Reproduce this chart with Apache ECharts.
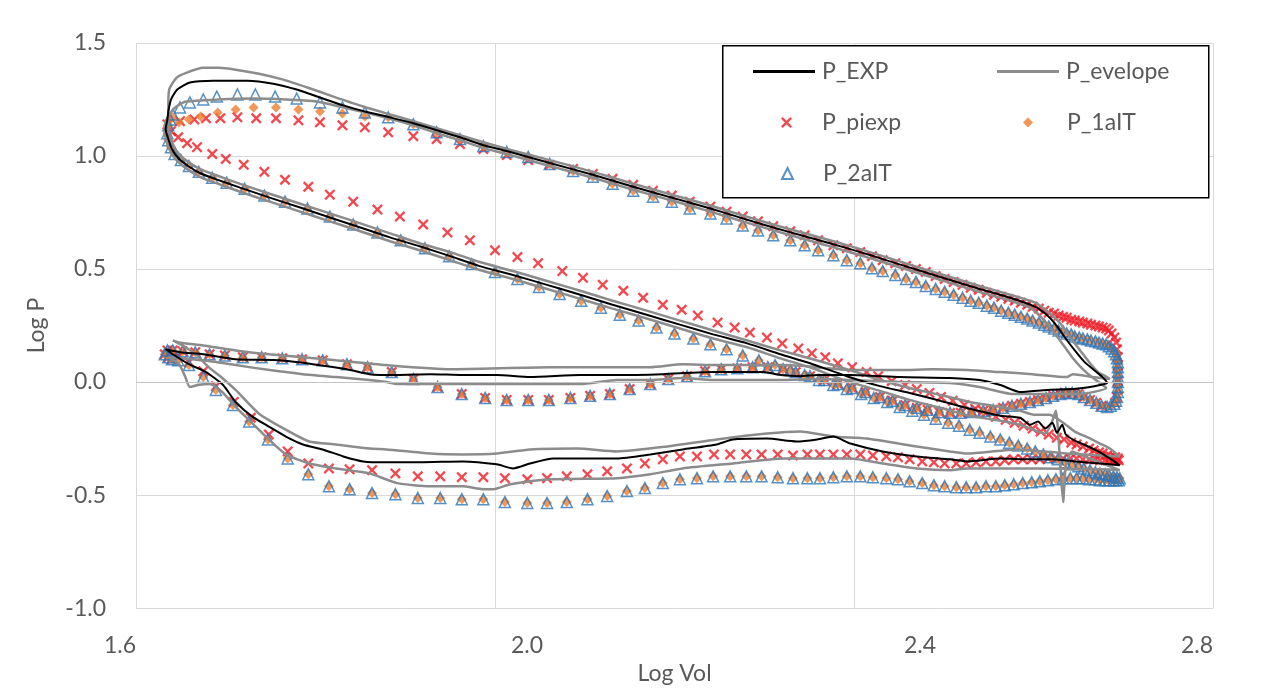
<!DOCTYPE html>
<html><head><meta charset="utf-8">
<script src="https://cdn.jsdelivr.net/npm/echarts@6/dist/echarts.min.js"></script>
<style>html,body{margin:0;padding:0;background:#fff}#c{width:1262px;height:690px}</style>
</head><body><div id="c"></div>
<script>
// ---------- axis ticks ----------
const xTicks = [1.6, 2.0, 2.4, 2.8];
const yTicks = [-1.0, -0.5, 0.0, 0.5, 1.0, 1.5];

// ---------- P_EXP (measured loop: intake, compression, expansion, exhaust) ----------
const pExp = [
[1.633,0.145],[1.641,0.123],[1.659,0.079],[1.678,0.044],[1.697,-0.013],[1.711,-0.088],[1.730,-0.154],[1.748,-0.197],[1.767,-0.241],[1.786,-0.276],[1.808,-0.298],[1.831,-0.329],[1.853,-0.351],[1.879,-0.355],[1.916,-0.355],[1.964,-0.351],[2.002,-0.364],[2.020,-0.382],[2.039,-0.360],[2.065,-0.338],[2.098,-0.338],[2.136,-0.338],[2.173,-0.320],[2.209,-0.298],[2.247,-0.276],[2.265,-0.254],[2.303,-0.250],[2.336,-0.263],[2.359,-0.254],[2.377,-0.241],[2.396,-0.272],[2.432,-0.307],[2.470,-0.329],[2.507,-0.342],[2.526,-0.351],[2.563,-0.338],[2.596,-0.342],[2.618,-0.342],[2.646,-0.351],[2.674,-0.360],[2.696,-0.368],
[2.685,-0.338],[2.674,-0.311],[2.661,-0.285],[2.646,-0.259],[2.636,-0.232],[2.632,-0.189],[2.626,-0.224],[2.621,-0.180],[2.613,-0.206],[2.605,-0.175],[2.596,-0.189],[2.585,-0.158],[2.563,-0.149],[2.529,-0.118],[2.496,-0.083],[2.462,-0.048],[2.429,-0.018],[2.392,0.026],[2.354,0.079],[2.318,0.123],[2.281,0.171],[2.243,0.211],[2.206,0.254],[2.169,0.298],[2.131,0.342],[2.095,0.386],[2.058,0.430],[2.020,0.474],[1.983,0.513],[1.950,0.557],[1.916,0.601],[1.883,0.640],[1.850,0.684],[1.816,0.728],[1.783,0.772],[1.749,0.816],[1.716,0.860],[1.688,0.899],[1.671,0.925],[1.658,0.956],[1.647,0.991],[1.640,1.031],[1.636,1.075],[1.633,1.118],
[1.635,1.162],[1.636,1.197],[1.639,1.250],[1.646,1.294],[1.660,1.325],[1.686,1.333],[1.724,1.333],[1.753,1.320],[1.779,1.294],[1.805,1.259],[1.831,1.224],[1.855,1.197],[1.883,1.171],[1.909,1.145],[1.935,1.114],[1.961,1.083],[1.987,1.048],[2.013,1.022],[2.061,0.969],[2.109,0.917],[2.154,0.864],[2.197,0.816],[2.240,0.768],[2.276,0.724],[2.310,0.684],[2.345,0.645],[2.377,0.610],[2.407,0.575],[2.432,0.544],[2.457,0.513],[2.496,0.465],[2.540,0.412],[2.574,0.373],[2.602,0.333],[2.613,0.303],[2.624,0.259],[2.635,0.197],[2.646,0.140],[2.657,0.088],[2.669,0.048],[2.677,0.022],[2.682,-0.004],
[2.674,-0.013],[2.663,-0.022],[2.644,-0.031],[2.615,-0.035],[2.585,-0.044],[2.563,-0.013],[2.540,0.009],[2.507,0.018],[2.451,0.022],[2.396,0.031],[2.359,0.031],[2.340,0.026],[2.318,0.031],[2.299,0.044],[2.243,0.044],[2.187,0.035],[2.136,0.031],[2.095,0.031],[2.039,0.022],[2.002,0.031],[1.964,0.031],[1.928,0.035],[1.891,0.031],[1.860,0.035],[1.835,0.057],[1.797,0.079],[1.760,0.096],[1.711,0.101],[1.675,0.123],[1.649,0.132],[1.633,0.145]
];

// ---------- P_evelope (upper and lower bounds) ----------
const envUpper = [
[1.641,0.184],[1.655,0.154],[1.668,0.118],[1.681,0.066],[1.696,0.018],[1.711,-0.035],[1.737,-0.140],[1.767,-0.211],[1.793,-0.263],[1.823,-0.276],[1.860,-0.294],[1.879,-0.298],[1.928,-0.316],[1.964,-0.320],[2.002,-0.316],[2.039,-0.298],[2.091,-0.294],[2.136,-0.307],[2.192,-0.285],[2.247,-0.254],[2.303,-0.228],[2.340,-0.219],[2.377,-0.241],[2.414,-0.250],[2.470,-0.285],[2.507,-0.307],[2.526,-0.316],[2.582,-0.298],[2.637,-0.316],[2.696,-0.329],
[2.685,-0.294],[2.674,-0.272],[2.661,-0.246],[2.646,-0.219],[2.633,-0.180],[2.618,-0.145],[2.602,-0.145],[2.585,-0.127],[2.563,-0.110],[2.529,-0.088],[2.496,-0.057],[2.462,-0.026],[2.429,0.009],[2.392,0.057],[2.354,0.101],[2.318,0.140],[2.281,0.184],[2.243,0.228],[2.206,0.272],[2.169,0.316],[2.131,0.360],[2.095,0.404],[2.058,0.447],[2.020,0.491],[1.983,0.531],[1.950,0.575],[1.916,0.614],[1.883,0.658],[1.850,0.702],[1.816,0.746],[1.783,0.789],[1.749,0.833],[1.716,0.877],[1.688,0.917],[1.671,0.943],[1.658,0.974],[1.649,1.004],[1.642,1.044],[1.638,1.088],[1.636,1.140],
[1.636,1.219],[1.637,1.294],[1.645,1.346],[1.656,1.368],[1.675,1.390],[1.692,1.390],[1.711,1.382],[1.737,1.364],[1.764,1.338],[1.791,1.303],[1.820,1.263],[1.853,1.219],[1.883,1.184],[1.909,1.154],[1.935,1.123],[1.961,1.092],[1.987,1.061],[2.013,1.031],[2.061,0.982],[2.109,0.930],[2.154,0.877],[2.197,0.829],[2.240,0.781],[2.276,0.737],[2.310,0.697],[2.345,0.658],[2.377,0.623],[2.407,0.588],[2.432,0.557],[2.457,0.526],[2.496,0.478],[2.540,0.425],[2.574,0.386],[2.602,0.351],[2.616,0.311],[2.630,0.259],[2.641,0.197],[2.652,0.140],[2.663,0.083],[2.672,0.044],[2.680,0.026],[2.685,0.013],
[2.666,0.022],[2.644,0.035],[2.637,0.022],[2.599,0.035],[2.563,0.044],[2.526,0.053],[2.488,0.057],[2.451,0.053],[2.396,0.053],[2.359,0.066],[2.321,0.075],[2.247,0.075],[2.209,0.079],[2.173,0.066],[2.061,0.066],[1.950,0.057],[1.879,0.075],[1.823,0.096],[1.786,0.110],[1.748,0.123],[1.711,0.140],[1.675,0.162],[1.648,0.175],[1.641,0.184]
];
const envLower = [
[1.636,0.110],[1.648,0.079],[1.655,0.022],[1.660,-0.022],[1.669,-0.013],[1.682,-0.009],[1.696,-0.044],[1.711,-0.110],[1.730,-0.184],[1.748,-0.254],[1.767,-0.320],[1.793,-0.360],[1.823,-0.382],[1.860,-0.404],[1.891,-0.447],[1.928,-0.461],[1.964,-0.461],[1.987,-0.474],[1.998,-0.474],[2.017,-0.452],[2.061,-0.430],[2.136,-0.425],[2.173,-0.408],[2.209,-0.382],[2.265,-0.360],[2.321,-0.338],[2.396,-0.338],[2.432,-0.360],[2.470,-0.382],[2.507,-0.390],[2.526,-0.382],[2.599,-0.382],[2.674,-0.386],[2.696,-0.390],
[2.674,-0.355],[2.657,-0.329],[2.643,-0.307],[2.636,-0.373],[2.633,-0.531],[2.630,-0.373],[2.627,-0.197],[2.625,-0.127],[2.621,-0.171],[2.613,-0.228],[2.602,-0.215],[2.585,-0.189],[2.563,-0.171],[2.529,-0.149],[2.496,-0.114],[2.462,-0.079],[2.429,-0.039],[2.392,0.004],[2.354,0.061],[2.318,0.105],[2.281,0.154],[2.243,0.193],[2.206,0.237],[2.169,0.281],[2.131,0.325],[2.095,0.368],[2.058,0.412],[2.020,0.456],[1.983,0.496],[1.950,0.539],[1.916,0.583],[1.883,0.623],[1.850,0.667],[1.816,0.711],[1.783,0.754],[1.749,0.798],[1.716,0.842],[1.688,0.882],[1.671,0.908],[1.658,0.939],[1.647,0.974],[1.640,1.009],[1.635,1.053],[1.632,1.110],
[1.633,1.154],[1.639,1.193],[1.645,1.219],[1.656,1.241],[1.692,1.250],[1.730,1.254],[1.767,1.250],[1.801,1.241],[1.827,1.219],[1.855,1.193],[1.881,1.167],[1.909,1.136],[1.935,1.101],[1.961,1.070],[1.987,1.035],[2.013,1.009],[2.061,0.956],[2.109,0.904],[2.154,0.851],[2.197,0.803],[2.240,0.754],[2.276,0.711],[2.310,0.671],[2.345,0.632],[2.377,0.596],[2.407,0.561],[2.432,0.531],[2.457,0.500],[2.496,0.452],[2.540,0.399],[2.574,0.360],[2.596,0.329],[2.609,0.285],[2.621,0.228],[2.632,0.171],[2.643,0.110],[2.654,0.061],[2.665,0.022],[2.674,-0.004],[2.681,-0.026],
[2.652,-0.053],[2.615,-0.053],[2.577,-0.053],[2.540,-0.022],[2.507,-0.004],[2.451,0.000],[2.396,0.009],[2.359,0.013],[2.321,0.009],[2.284,0.009],[2.243,0.009],[2.209,0.018],[2.173,0.009],[2.136,0.009],[2.095,-0.009],[2.061,-0.009],[1.983,-0.009],[1.950,-0.009],[1.891,-0.009],[1.879,0.000],[1.860,0.009],[1.823,0.022],[1.786,0.035],[1.749,0.053],[1.711,0.075],[1.675,0.096],[1.636,0.110]
];

// ---------- P_2aIT / P_1aIT (model points; they differ only near the peak) ----------
const aIT2Peak = [[1.641,1.184],[1.649,1.215],[1.660,1.237],[1.675,1.250],[1.690,1.263],[1.713,1.272],[1.733,1.272],[1.755,1.263],[1.779,1.254],[1.805,1.237],[1.830,1.215],[1.855,1.193]];
const aIT1Peak = [[1.641,1.170],[1.648,1.149],[1.659,1.162],[1.672,1.175],[1.691,1.193],[1.711,1.206],[1.731,1.215],[1.756,1.215],[1.781,1.206],[1.805,1.197],[1.830,1.188],[1.855,1.175]];
const aITExpansion = [
[1.881,1.171],[1.909,1.140],[1.935,1.105],[1.961,1.075],[1.987,1.044],[2.013,1.018],[2.037,0.996],[2.061,0.965],[2.087,0.934],[2.109,0.908],[2.131,0.877],[2.154,0.846],[2.176,0.820],[2.197,0.798],[2.217,0.768],[2.240,0.746],[2.258,0.724],[2.276,0.693],[2.293,0.671],[2.310,0.649],[2.329,0.627],[2.345,0.605],[2.360,0.583],[2.377,0.561],[2.392,0.539],[2.407,0.526],[2.420,0.504],[2.432,0.491],[2.446,0.474],
[2.458,0.456],[2.469,0.443],[2.480,0.425],[2.491,0.412],[2.501,0.399],[2.511,0.386],[2.521,0.373],[2.530,0.360],[2.539,0.351],[2.548,0.338],[2.556,0.329],[2.564,0.316],[2.572,0.307],[2.579,0.298],[2.586,0.289],[2.593,0.281],[2.599,0.272],[2.606,0.263],[2.612,0.254],[2.617,0.246],[2.623,0.237],[2.628,0.228],[2.633,0.224],[2.637,0.215],[2.642,0.211],[2.646,0.202],[2.651,0.197],[2.655,0.193],[2.660,0.189],[2.664,0.184],[2.669,0.180],[2.673,0.175],[2.677,0.171],[2.681,0.167],[2.684,0.158],[2.687,0.149],[2.690,0.136],[2.692,0.123],[2.693,0.105],[2.694,0.088],[2.694,0.066],[2.694,0.044],[2.694,0.022],[2.694,0.000],[2.694,-0.022],[2.694,-0.044],[2.693,-0.066],[2.692,-0.083],[2.690,-0.096],[2.686,-0.105],[2.682,-0.110]
];
const aITExhaust = [
[2.676,-0.105],[2.670,-0.092],[2.663,-0.079],[2.656,-0.066],[2.650,-0.053],[2.643,-0.048],[2.636,-0.048],[2.630,-0.053],[2.622,-0.061],[2.614,-0.070],[2.605,-0.079],[2.596,-0.088],[2.586,-0.096],[2.576,-0.105],[2.566,-0.114],[2.555,-0.123],[2.544,-0.127],[2.531,-0.132],[2.519,-0.136],[2.507,-0.136],[2.495,-0.132],[2.482,-0.123],[2.470,-0.114],[2.457,-0.101],[2.443,-0.083],[2.429,-0.066],[2.413,-0.044],[2.398,-0.026],[2.382,-0.009],[2.367,0.009],[2.351,0.026],[2.335,0.044],[2.321,0.057],[2.304,0.066],[2.287,0.066],[2.270,0.061],[2.252,0.057],[2.234,0.048],[2.214,0.026],[2.193,0.013],[2.173,-0.009],[2.150,-0.031],[2.128,-0.053],[2.106,-0.061],[2.084,-0.070],[2.060,-0.079],[2.037,-0.079],[2.013,-0.079],[1.989,-0.070],[1.963,-0.053],[1.936,-0.022],[1.909,0.013],[1.885,0.044],[1.858,0.066],[1.835,0.079],[1.808,0.096],[1.785,0.101],[1.763,0.105],[1.740,0.110],[1.719,0.110],[1.699,0.118],[1.682,0.123],[1.666,0.132],[1.652,0.136],[1.641,0.140],[1.635,0.140],[1.632,0.123],[1.636,0.110],[1.640,0.101]
];
const aITIntake = [
[1.647,0.096],[1.659,0.075],[1.675,0.022],[1.689,-0.035],[1.708,-0.101],[1.726,-0.175],[1.747,-0.254],[1.769,-0.338],[1.792,-0.408],[1.815,-0.461],[1.838,-0.474],[1.863,-0.491],[1.889,-0.496],[1.914,-0.513],[1.939,-0.513],[1.963,-0.518],[1.987,-0.518],[2.011,-0.531],[2.036,-0.535],[2.058,-0.535],[2.080,-0.531],[2.103,-0.518],[2.125,-0.504],[2.147,-0.482],[2.167,-0.469],[2.187,-0.447],[2.206,-0.430],[2.225,-0.425],[2.243,-0.417],[2.262,-0.417],[2.280,-0.417],[2.297,-0.417],[2.315,-0.421],[2.332,-0.425],[2.348,-0.425],[2.362,-0.425],[2.377,-0.421],[2.392,-0.417],[2.407,-0.417],[2.421,-0.421],[2.436,-0.425],[2.449,-0.430],[2.462,-0.439],[2.476,-0.447],[2.489,-0.456],[2.501,-0.461],[2.514,-0.465],[2.525,-0.465],[2.536,-0.465],[2.547,-0.461],[2.558,-0.461],[2.568,-0.456],[2.578,-0.452],[2.588,-0.447],[2.598,-0.443],[2.607,-0.439],[2.616,-0.434],[2.625,-0.430],[2.633,-0.425],[2.641,-0.425],[2.648,-0.425],[2.655,-0.425],[2.662,-0.430],[2.669,-0.430],[2.674,-0.434],[2.680,-0.434],[2.684,-0.434],[2.689,-0.434],[2.692,-0.434],[2.695,-0.434]
];
const aITCompression = [
[2.696,-0.425],[2.693,-0.421],[2.689,-0.417],[2.684,-0.412],[2.680,-0.408],[2.674,-0.404],[2.669,-0.399],[2.663,-0.390],[2.656,-0.382],[2.650,-0.373],[2.643,-0.364],[2.635,-0.355],[2.627,-0.342],[2.619,-0.333],[2.611,-0.320],[2.602,-0.307],[2.593,-0.294],[2.583,-0.281],[2.573,-0.268],[2.563,-0.254],[2.552,-0.241],[2.540,-0.224],[2.529,-0.211],[2.517,-0.193],[2.505,-0.180],[2.491,-0.162],[2.478,-0.145],[2.465,-0.127],[2.451,-0.110],[2.437,-0.088],[2.422,-0.070],[2.408,-0.053],[2.392,-0.031],[2.377,-0.013],[2.361,0.009],[2.345,0.031],[2.329,0.053],[2.312,0.075],[2.294,0.096],[2.276,0.118],[2.258,0.145],[2.240,0.167],[2.221,0.193],[2.200,0.215],[2.180,0.241],[2.160,0.272],[2.139,0.298],[2.118,0.329],[2.096,0.360],[2.072,0.390],[2.049,0.421],[2.025,0.456],[2.000,0.487],[1.974,0.522],[1.949,0.557],[1.922,0.592],[1.895,0.627],[1.869,0.662],[1.842,0.697],[1.816,0.732],[1.791,0.768],[1.766,0.798],[1.743,0.825],[1.721,0.855],[1.701,0.882],[1.685,0.904],[1.670,0.930],[1.659,0.956],[1.650,0.982],[1.643,1.009],[1.639,1.039],[1.636,1.070],[1.635,1.101],[1.636,1.136],[1.638,1.162]
];

// ---------- P_piexp ----------
const piExpansion = [
[1.635,1.140],[1.649,1.154],[1.665,1.162],[1.678,1.167],[1.694,1.167],[1.713,1.171],[1.734,1.167],[1.756,1.167],[1.781,1.158],[1.805,1.149],[1.830,1.136],[1.855,1.127],[1.881,1.105],[1.909,1.088],[1.935,1.075],[1.961,1.053],[1.987,1.031],[2.013,1.004],[2.037,0.982],[2.061,0.961],[2.087,0.943],[2.109,0.921],[2.131,0.899],[2.154,0.873],[2.176,0.846],[2.197,0.825],[2.217,0.798],[2.240,0.776],[2.258,0.754],[2.276,0.732],[2.293,0.711],[2.310,0.689],[2.329,0.667],[2.345,0.649],[2.360,0.627],[2.377,0.605],[2.392,0.592],[2.407,0.575],[2.420,0.557],[2.432,0.539],[2.446,0.526],
[2.458,0.513],[2.469,0.500],[2.480,0.487],[2.491,0.469],[2.501,0.456],[2.511,0.443],[2.521,0.430],[2.530,0.417],[2.539,0.408],[2.548,0.395],[2.556,0.386],[2.564,0.377],[2.572,0.368],[2.579,0.360],[2.586,0.351],[2.593,0.342],[2.599,0.333],[2.606,0.325],[2.612,0.316],[2.617,0.307],[2.623,0.303],[2.628,0.294],[2.633,0.289],[2.637,0.285],[2.642,0.276],[2.646,0.272],[2.651,0.268],[2.655,0.263],[2.660,0.259],[2.664,0.254],[2.669,0.250],[2.673,0.246],[2.677,0.241],[2.681,0.237],[2.684,0.228],[2.687,0.215],[2.690,0.197],[2.692,0.175],[2.693,0.145],[2.694,0.110],[2.694,0.075],[2.694,0.039],[2.694,0.004],[2.694,-0.031],[2.693,-0.066],[2.691,-0.092]
];
const piIntake = [
[1.647,0.110],[1.659,0.088],[1.675,0.048],[1.689,-0.018],[1.709,-0.088],[1.728,-0.158],[1.748,-0.232],[1.769,-0.307],[1.792,-0.360],[1.815,-0.382],[1.838,-0.386],[1.863,-0.390],[1.889,-0.404],[1.914,-0.417],[1.939,-0.417],[1.963,-0.421],[1.987,-0.421],[2.011,-0.425],[2.036,-0.430],[2.058,-0.425],[2.080,-0.417],[2.103,-0.408],[2.125,-0.395],[2.147,-0.382],[2.167,-0.360],[2.187,-0.342],[2.206,-0.329],[2.225,-0.329],[2.244,-0.320],[2.262,-0.320],[2.280,-0.320],[2.297,-0.320],[2.315,-0.320],[2.332,-0.325],[2.348,-0.320],[2.362,-0.320],[2.377,-0.320],[2.392,-0.320],[2.407,-0.320],[2.421,-0.325],[2.436,-0.329],[2.449,-0.333],[2.462,-0.342],[2.476,-0.351],[2.489,-0.355],[2.501,-0.360],[2.514,-0.360],[2.525,-0.360],[2.536,-0.355],[2.547,-0.351],[2.558,-0.351],[2.568,-0.346],[2.578,-0.342],[2.588,-0.342],[2.598,-0.342],[2.607,-0.342],[2.616,-0.338],[2.625,-0.338],[2.633,-0.338],[2.641,-0.338],[2.648,-0.338],[2.655,-0.342],[2.662,-0.342],[2.669,-0.342],[2.674,-0.346],[2.680,-0.346],[2.684,-0.346],[2.689,-0.346],[2.692,-0.346],[2.695,-0.346]
];
const piCompression = [
[2.694,-0.338],[2.691,-0.333],[2.686,-0.329],[2.682,-0.325],[2.677,-0.316],[2.673,-0.311],[2.667,-0.303],[2.662,-0.294],[2.655,-0.285],[2.648,-0.276],[2.642,-0.268],[2.634,-0.254],[2.626,-0.246],[2.617,-0.232],[2.608,-0.219],[2.599,-0.206],[2.589,-0.193],[2.579,-0.180],[2.569,-0.167],[2.558,-0.154],[2.547,-0.136],[2.535,-0.118],[2.523,-0.101],[2.510,-0.083],[2.497,-0.066],[2.484,-0.048],[2.470,-0.031],[2.457,-0.013],[2.442,0.004],[2.427,0.026],[2.414,0.044],[2.398,0.066],[2.382,0.083],[2.368,0.110],[2.353,0.127],[2.338,0.149],[2.320,0.171],[2.303,0.197],[2.284,0.219],[2.267,0.241],[2.248,0.263],[2.226,0.294],[2.208,0.320],[2.187,0.342],[2.165,0.373],[2.143,0.404],[2.120,0.430],[2.098,0.461],[2.075,0.491],[2.048,0.526],[2.025,0.553],[2.000,0.583],[1.972,0.627],[1.947,0.662],[1.920,0.697],[1.894,0.732],[1.869,0.763],[1.842,0.798],[1.816,0.829],[1.792,0.864],[1.766,0.895],[1.743,0.930],[1.720,0.961],[1.700,0.987],[1.685,1.009],[1.668,1.039],[1.657,1.057],[1.647,1.083],[1.639,1.110]
];

// ---------- series assembled from the arrays ----------
const p2aIT = [].concat(aIT2Peak, aITExpansion, aITExhaust, aITIntake, aITCompression);
const p1aIT = [].concat(aIT1Peak, aITExpansion, aITExhaust, aITIntake, aITCompression);
const pPiexp = [].concat(piExpansion, aITExhaust, piIntake, piCompression);

const FONT = 'Lato, "Open Sans", sans-serif';
const TXT = '#595959';
const xShift = {'1.6': 'l', '2.0': 'm', '2.4': 'r', '2.8': 'l'};
const xSymbol = 'path://M0,1.5L1.5,0L5,3.5L8.5,0L10,1.5L6.5,5L10,8.5L8.5,10L5,6.5L1.5,10L0,8.5L3.5,5Z';

function legendBox(name, left, top, icon, w, h, pad) {
  return {
    left: left, top: top, z: 5, itemWidth: w, itemHeight: h, icon: icon,
    data: [name],
    formatter: n => '{t|' + n + '}',
    textStyle: {color: TXT, fontSize: 23, fontFamily: FONT,
      rich: {t: {color: TXT, fontSize: 23, fontFamily: FONT, padding: [0, 0, 0, pad]}}}
  };
}

const chart = echarts.init(document.getElementById('c'), null, {renderer: 'canvas'});
chart.setOption({
  backgroundColor: '#ffffff',
  animation: false,
  textStyle: {fontFamily: FONT},
  grid: {left: 136, right: 49, top: 43, bottom: 77, containLabel: false},
  xAxis: {
    type: 'value', min: xTicks[0], max: xTicks[xTicks.length - 1], interval: 0.4,
    name: 'Log Vol', nameLocation: 'middle', nameGap: 47,
    nameTextStyle: {color: TXT, fontSize: 23, fontFamily: FONT},
    axisLine: {show: false}, axisTick: {show: false},
    axisLabel: {
      margin: 26, color: TXT, fontSize: 23, fontFamily: FONT,
      formatter: v => { const s = v.toFixed(1); return '{' + (xShift[s] || 'n') + '|' + s + '}'; },
      rich: {
        l: {fontSize: 23, color: TXT, fontFamily: FONT, padding: [0, 32, 0, 0]},
        m: {fontSize: 23, color: TXT, fontFamily: FONT, padding: [0, 0, 0, 64]},
        r: {fontSize: 23, color: TXT, fontFamily: FONT, padding: [0, 0, 0, 132]},
        n: {fontSize: 23, color: TXT, fontFamily: FONT}
      }
    },
    splitLine: {show: true, lineStyle: {color: '#D9D9D9', width: 1}}
  },
  yAxis: {
    type: 'value', min: yTicks[0], max: yTicks[yTicks.length - 1], interval: 0.5,
    name: 'Log P', nameLocation: 'middle', nameGap: 88, nameRotate: 90,
    nameTextStyle: {color: TXT, fontSize: 23, fontFamily: FONT},
    axisLine: {show: false}, axisTick: {show: false},
    axisLabel: {margin: 30, color: TXT, fontSize: 23, fontFamily: FONT, formatter: v => v.toFixed(1)},
    splitLine: {show: true, lineStyle: {color: '#D9D9D9', width: 1}}
  },
  graphic: [{
    type: 'rect', left: 722, top: 45, z: 3,
    shape: {width: 486, height: 152},
    style: {fill: '#ffffff', stroke: '#000000', lineWidth: 1.5}
  }],
  legend: [
    legendBox('P_EXP', 748, 55, 'rect', 62, 3, 2),
    legendBox('P_evelope', 992, 55, 'rect', 62, 3, 2),
    legendBox('P_piexp', 776, 106, xSymbol, 11, 11, 25),
    legendBox('P_1aIT', 1018, 106, 'diamond', 10, 10, 29),
    legendBox('P_2aIT', 776, 157, 'triangle', 11, 11, 25)
  ],
  series: [
    {name: 'P_piexp', type: 'scatter', data: pPiexp, symbol: xSymbol, symbolSize: 11, z: 2,
     itemStyle: {color: '#EE1C25'}},
    {name: 'P_1aIT', type: 'scatter', data: p1aIT, symbol: 'diamond', symbolSize: 10, z: 2,
     itemStyle: {color: '#ED7D31'}},
    {name: 'P_2aIT', type: 'scatter', data: p2aIT, symbol: 'triangle', symbolSize: 11, z: 2,
     itemStyle: {color: 'rgba(255,255,255,0)', borderColor: '#2E75B6', borderWidth: 1.5}},
    {name: 'P_evelope', type: 'line', data: envUpper, symbol: 'none', smooth: 0.2, z: 3,
     lineStyle: {color: '#8C8C8C', width: 2.5}, itemStyle: {color: '#8C8C8C'},
     markLine: {silent: true, symbol: 'none', label: {show: false},
       lineStyle: {color: '#C4C4C4', width: 1, type: 'solid'}, data: [{yAxis: 0}]}},
    {name: 'P_evelope', type: 'line', data: envLower, symbol: 'none', smooth: 0.2, z: 3,
     lineStyle: {color: '#8C8C8C', width: 2.5}, itemStyle: {color: '#8C8C8C'}},
    {name: 'P_EXP', type: 'line', data: pExp, symbol: 'none', smooth: 0.2, z: 3,
     lineStyle: {color: '#000000', width: 2}, itemStyle: {color: '#000000'}}
  ]
});
</script></body></html>
